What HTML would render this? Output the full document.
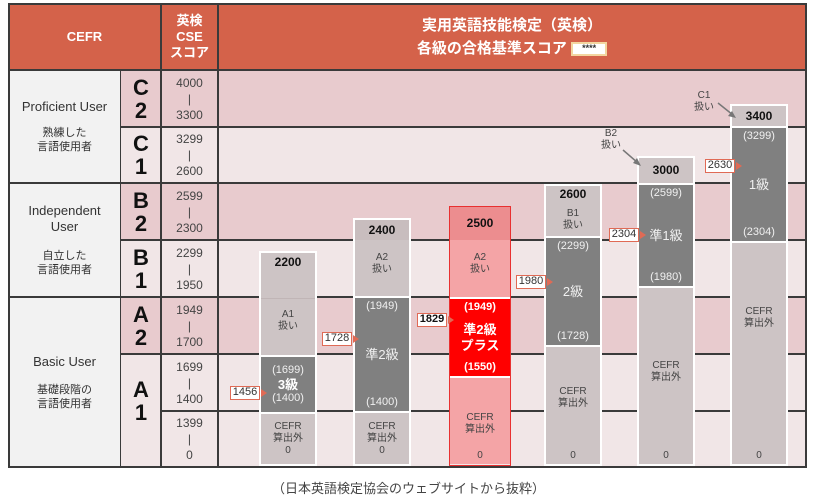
<!DOCTYPE html>
<html><head><meta charset="utf-8">
<style>
*{margin:0;padding:0;box-sizing:border-box}
body{width:817px;height:498px;background:#fff;position:relative;overflow:hidden;font-family:"Liberation Sans","Noto Sans CJK JP",sans-serif;color:#333}
.a{position:absolute}
.c{position:absolute;display:flex;flex-direction:column;align-items:center;justify-content:center;text-align:center}
.h{background:#d4624a;color:#fff;font-weight:bold}
.pk{background:#e8cbce}.lt{background:#f1e6e7}
.hl{position:absolute;height:2px;background:#3a3a3a}
.vl{position:absolute;width:2px;background:#3a3a3a}
.bar{position:absolute;border:2px solid #fff}
.seg{position:absolute;left:0;right:0;display:flex;flex-direction:column;align-items:center;justify-content:center;text-align:center;line-height:1.2}
.g1{background:#cdc4c5}.g2{background:#c8bdbe}.dk{background:#808080;color:#f0f0f0}
.s{font-size:10px;color:#444}
.big{font-size:12px;font-weight:bold;color:#111}
.mk{position:absolute;height:14px;width:30px;background:#fff;border:1.5px solid #e06a55;font-size:11px;line-height:11px;color:#333;text-align:center}
.mk:after{content:"";position:absolute;right:-8px;top:2px;border-left:6px solid #e06a55;border-top:4px solid transparent;border-bottom:4px solid transparent}
.L{font-size:22px;font-weight:bold;color:#111;line-height:23px}
.num{font-size:12px;color:#444;line-height:16px}
</style></head><body>
<div class="c h" style="left:8px;top:3px;width:153px;height:67px;font-size:13px">CEFR</div>
<div class="c h" style="left:161px;top:3px;width:57px;height:67px;font-size:13px;line-height:16px">英検<br>CSE<br>スコア</div>
<div class="c h" style="left:218px;top:3px;width:588px;height:67px;font-size:15px;line-height:23px">実用英語技能検定（英検）<br><span>各級の合格基準スコア <span style="display:inline-block;width:36px;height:14px;background:#fff;border:2px solid #f3d6a0;color:#333;font-size:9px;line-height:9px;vertical-align:middle">****</span></span></div>
<div class="a" style="left:8px;top:70px;width:113px;height:397px;background:#f2f2f2"></div>
<div class="a pk" style="left:121px;top:70px;width:685px;height:57px"></div>
<div class="a lt" style="left:121px;top:127px;width:685px;height:56px"></div>
<div class="a pk" style="left:121px;top:183px;width:685px;height:57px"></div>
<div class="a lt" style="left:121px;top:240px;width:685px;height:57px"></div>
<div class="a pk" style="left:121px;top:297px;width:685px;height:57px"></div>
<div class="a lt" style="left:121px;top:354px;width:685px;height:113px"></div>
<div class="c" style="left:8px;top:70px;width:113px;height:113px;font-size:13px;color:#333"><div>Proficient User</div><div style="font-size:11px;margin-top:12px;line-height:14px">熟練した<br>言語使用者</div></div>
<div class="c" style="left:8px;top:183px;width:113px;height:114px;font-size:13px;color:#333;line-height:16px"><div>Independent<br>User</div><div style="font-size:11px;margin-top:14px;line-height:14px">自立した<br>言語使用者</div></div>
<div class="c" style="left:8px;top:297px;width:113px;height:170px;font-size:13px;color:#333"><div>Basic User</div><div style="font-size:11px;margin-top:14px;line-height:14px">基礎段階の<br>言語使用者</div></div>
<div class="c L" style="left:121px;top:70px;width:40px;height:57px">C<br>2</div>
<div class="c L" style="left:121px;top:127px;width:40px;height:56px">C<br>1</div>
<div class="c L" style="left:121px;top:183px;width:40px;height:57px">B<br>2</div>
<div class="c L" style="left:121px;top:240px;width:40px;height:57px">B<br>1</div>
<div class="c L" style="left:121px;top:297px;width:40px;height:57px">A<br>2</div>
<div class="c L" style="left:121px;top:354px;width:40px;height:113px;padding-bottom:20px">A<br>1</div>
<div class="c num" style="left:161px;top:70px;width:57px;height:57px">4000<br>|<br>3300</div>
<div class="c num" style="left:161px;top:127px;width:57px;height:56px">3299<br>|<br>2600</div>
<div class="c num" style="left:161px;top:183px;width:57px;height:57px">2599<br>|<br>2300</div>
<div class="c num" style="left:161px;top:240px;width:57px;height:57px">2299<br>|<br>1950</div>
<div class="c num" style="left:161px;top:297px;width:57px;height:57px">1949<br>|<br>1700</div>
<div class="c num" style="left:161px;top:354px;width:57px;height:57px">1699<br>|<br>1400</div>
<div class="c num" style="left:161px;top:411px;width:57px;height:56px">1399<br>|<br>0</div>
<div class="hl" style="left:8px;top:69px;width:798px"></div>
<div class="hl" style="left:121px;top:126px;width:685px"></div>
<div class="hl" style="left:8px;top:182px;width:798px"></div>
<div class="hl" style="left:121px;top:239px;width:685px"></div>
<div class="hl" style="left:8px;top:296px;width:798px"></div>
<div class="hl" style="left:121px;top:353px;width:685px"></div>
<div class="hl" style="left:161px;top:410px;width:645px"></div>
<div class="hl" style="left:8px;top:466px;width:799px"></div>
<div class="hl" style="left:8px;top:3px;width:799px"></div>
<div class="vl" style="left:8px;top:3px;height:465px"></div>
<div class="vl" style="left:805px;top:3px;height:465px"></div>
<div class="vl" style="left:120px;top:70px;height:397px;width:1px"></div>
<div class="vl" style="left:160px;top:3px;height:465px"></div>
<div class="vl" style="left:217px;top:3px;height:465px"></div>
<div class="bar" style="left:259px;top:251px;width:58px;height:215px">
<div class="seg g1" style="top:0;height:45px;justify-content:flex-start;padding-top:2px"><span class="big">2200</span></div>
<div class="seg g1 s" style="top:45px;height:57px;border-top:1px solid #c0b5b6;justify-content:flex-start;padding-top:10px">A1<br>扱い</div>
<div class="seg dk" style="top:102px;height:57px;border-top:2px solid #fff;font-size:11px"><span>(1699)</span><span style="font-size:13px;font-weight:bold;color:#fff">3級</span><span>(1400)</span></div>
<div class="seg g1 s" style="top:159px;height:52px;border-top:2px solid #fff">CEFR<br>算出外<br>0</div>
</div>
<div class="bar" style="left:353px;top:218px;width:58px;height:248px">
<div class="seg g2" style="top:0;height:20px"><span class="big">2400</span></div>
<div class="seg g1 s" style="top:20px;height:56px;justify-content:flex-start;padding-top:12px">A2<br>扱い</div>
<div class="seg dk" style="top:76px;height:115px;border-top:2px solid #fff;justify-content:space-between;font-size:11px;padding:2px 0"><span>(1949)</span><span style="font-size:13px">準2級</span><span>(1400)</span></div>
<div class="seg g1 s" style="top:191px;height:53px;border-top:2px solid #fff">CEFR<br>算出外<br>0</div>
</div>
<div class="a" style="left:449px;top:206px;width:62px;height:260px;border:1.5px solid #e83030">
<div class="seg" style="top:0;height:33px;background:#ec8d8f;align-items:center"><span class="big">2500</span></div>
<div class="seg s" style="top:33px;height:57px;background:#f4a4a6;justify-content:flex-start;padding-top:12px">A2<br>扱い</div>
<div class="seg" style="top:90px;height:81px;background:#ff0000;color:#fff;font-weight:bold;font-size:11px;justify-content:space-between;padding:2px 0;border-top:2px solid #fff;border-bottom:2px solid #fff"><span>(1949)</span><span style="font-size:13px;line-height:16px">準2級<br>プラス</span><span>(1550)</span></div>
<div class="seg s" style="top:171px;height:86px;background:#f4a4a6;justify-content:flex-end;padding-bottom:2px"><span>CEFR<br>算出外</span><span style="margin-top:14px">0</span></div>
</div>
<div class="bar" style="left:544px;top:184px;width:58px;height:282px">
<div class="seg g1" style="top:0;height:17px"><span class="big">2600</span></div>
<div class="seg g1 s" style="top:17px;height:33px">B1<br>扱い</div>
<div class="seg dk" style="top:50px;height:109px;border-top:2px solid #fff;justify-content:space-between;font-size:11px;padding:2px 0"><span>(2299)</span><span style="font-size:13px">2級</span><span>(1728)</span></div>
<div class="seg g1 s" style="top:159px;height:119px;border-top:2px solid #fff;justify-content:flex-end;padding-bottom:2px"><span>CEFR<br>算出外</span><span style="margin-top:40px">0</span></div>
</div>
<div class="bar" style="left:637px;top:156px;width:58px;height:310px">
<div class="seg g1" style="top:0;height:25px"><span class="big">3000</span></div>
<div class="seg dk" style="top:25px;height:103px;border-top:2px solid #fff;justify-content:space-between;font-size:11px;padding:2px 0"><span>(2599)</span><span style="font-size:13px">準1級</span><span>(1980)</span></div>
<div class="seg g1 s" style="top:128px;height:178px;border-top:2px solid #fff;justify-content:flex-end;padding-bottom:2px"><span>CEFR<br>算出外</span><span style="margin-top:66px">0</span></div>
</div>
<div class="bar" style="left:730px;top:104px;width:58px;height:362px">
<div class="seg g1" style="top:0;height:20px"><span class="big">3400</span></div>
<div class="seg dk" style="top:20px;height:115px;border-top:2px solid #fff;justify-content:space-between;font-size:11px;padding:2px 0"><span>(3299)</span><span style="font-size:13px">1級</span><span>(2304)</span></div>
<div class="seg g1 s" style="top:135px;height:223px;border-top:2px solid #fff;justify-content:flex-end;padding-bottom:2px"><span>CEFR<br>算出外</span><span style="margin-top:120px">0</span></div>
</div>
<div class="mk" style="left:230px;top:386px">1456</div>
<div class="mk" style="left:322px;top:332px">1728</div>
<div class="mk" style="left:417px;top:313px;font-weight:bold;color:#111">1829</div>
<div class="mk" style="left:516px;top:275px">1980</div>
<div class="mk" style="left:609px;top:228px">2304</div>
<div class="mk" style="left:705px;top:159px">2630</div>
<div class="c s" style="left:596px;top:128px;width:30px;line-height:12px;font-size:10px">B2<br>扱い</div>
<div class="c s" style="left:689px;top:90px;width:30px;line-height:12px;font-size:10px">C1<br>扱い</div>
<svg class="a" style="left:0;top:0" width="817" height="498">
<line x1="623" y1="150" x2="638" y2="163" stroke="#777" stroke-width="1.5"/>
<polygon points="641,166 633,163 637,158" fill="#777"/>
<line x1="718" y1="103" x2="733" y2="115" stroke="#777" stroke-width="1.5"/>
<polygon points="736,118 728,116 732,111" fill="#777"/>
</svg>
<div class="a" style="left:0;top:478px;width:817px;text-align:center;font-size:13px;color:#444">（日本英語検定協会のウェブサイトから抜粋）</div>
</body></html>
